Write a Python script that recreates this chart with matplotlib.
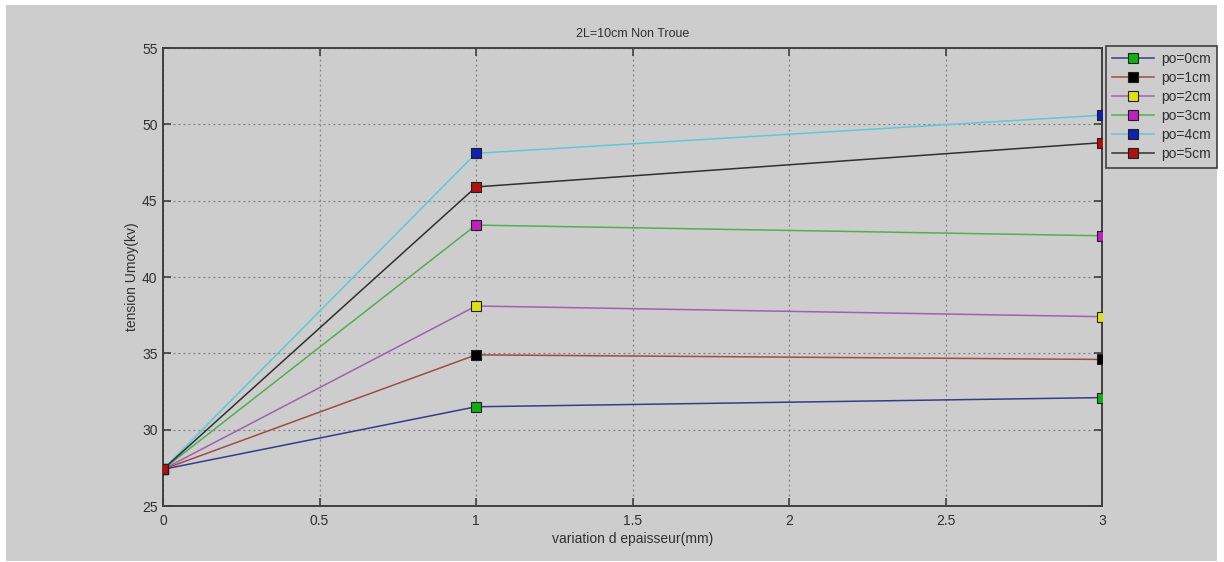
import matplotlib
matplotlib.use("Agg")
import matplotlib.pyplot as plt
from matplotlib.patches import Rectangle

# Thickness variation (mm) and mean voltage (kV) for each po position
thickness = [0, 1, 3]
u_po0 = [27.4, 31.5, 32.1]
u_po1 = [27.4, 34.9, 34.6]
u_po2 = [27.4, 38.1, 37.4]
u_po3 = [27.4, 43.4, 42.7]
u_po4 = [27.4, 48.1, 50.6]
u_po5 = [27.4, 45.9, 48.8]
labels = ["po=0cm", "po=1cm", "po=2cm", "po=3cm", "po=4cm", "po=5cm"]
series = [u_po0, u_po1, u_po2, u_po3, u_po4, u_po5]

line_colors = ["#3a3a8c", "#a04a4a", "#a060b0", "#50b050", "#60c8d8", "#303030"]
marker_colors = ["#10b010", "#000000", "#e0e010", "#c020c0", "#1020b0", "#b01010"]

xticks = [0, 0.5, 1, 1.5, 2, 2.5, 3]
yticks = [25, 30, 35, 40, 45, 50, 55]

plt.rcParams["font.family"] = ["Liberation Sans", "DejaVu Sans"]

W, H = 1224, 562
fig = plt.figure(figsize=(W / 100, H / 100), dpi=100, facecolor="white")
bg = "#cdcdcd"
fig.patches.append(Rectangle((6 / W, 1 - 561 / H), (1217 - 6) / W, (561 - 5) / H,
                             transform=fig.transFigure, facecolor=bg,
                             edgecolor="none", zorder=-10))

left, right, top, bottom = 163, 1102, 48, 506
ax = fig.add_axes([left / W, 1 - bottom / H, (right - left) / W, (bottom - top) / H])
ax.set_facecolor(bg)

for ys, lc, mc, lab in zip(series, line_colors, marker_colors, labels):
    ax.plot(thickness, ys, color=lc, lw=1.1, marker="s", markersize=6.5,
            markerfacecolor=mc, markeredgecolor="#202020", markeredgewidth=0.8,
            label=lab, zorder=3)

ax.set_xlim(0, 3)
ax.set_ylim(25, 55)
ax.set_xticks(xticks)
ax.set_xticklabels(["0", "0.5", "1", "1.5", "2", "2.5", "3"])
ax.set_yticks(yticks)

ax.grid(True, linestyle=(0, (1.5, 2.5)), color="#808080", lw=0.9)
ax.tick_params(direction="in", length=6, width=1.2, color="#404040",
               top=True, right=True, labelsize=10, labelcolor="#303030")
ax.tick_params(axis="x", pad=6)
ax.tick_params(axis="y", pad=4)
for sp in ax.spines.values():
    sp.set_color("#404040")
    sp.set_linewidth(1.4)

ax.set_xlabel("variation d epaisseur(mm)", fontsize=10, color="#303030", labelpad=3)
ax.set_ylabel("tension Umoy(kv)", fontsize=10, color="#303030", labelpad=2)
ax.set_title("2L=10cm Non Troue", fontsize=9, color="#303030", pad=8,
             family=["Liberation Sans Narrow", "Liberation Sans", "DejaVu Sans"])

leg = ax.legend(loc="upper left", bbox_to_anchor=(1106 / W, 1 - 46 / H),
                bbox_transform=fig.transFigure, fancybox=False, frameon=True,
                facecolor=bg, edgecolor="#404040", framealpha=1, fontsize=10,
                handlelength=3.0, labelspacing=0.36, borderaxespad=0,
                borderpad=0.45, handletextpad=0.5)
leg.get_frame().set_linewidth(1.2)
for t in leg.get_texts():
    t.set_color("#303030")

fig.savefig("out.png", dpi=100, facecolor=fig.get_facecolor())
